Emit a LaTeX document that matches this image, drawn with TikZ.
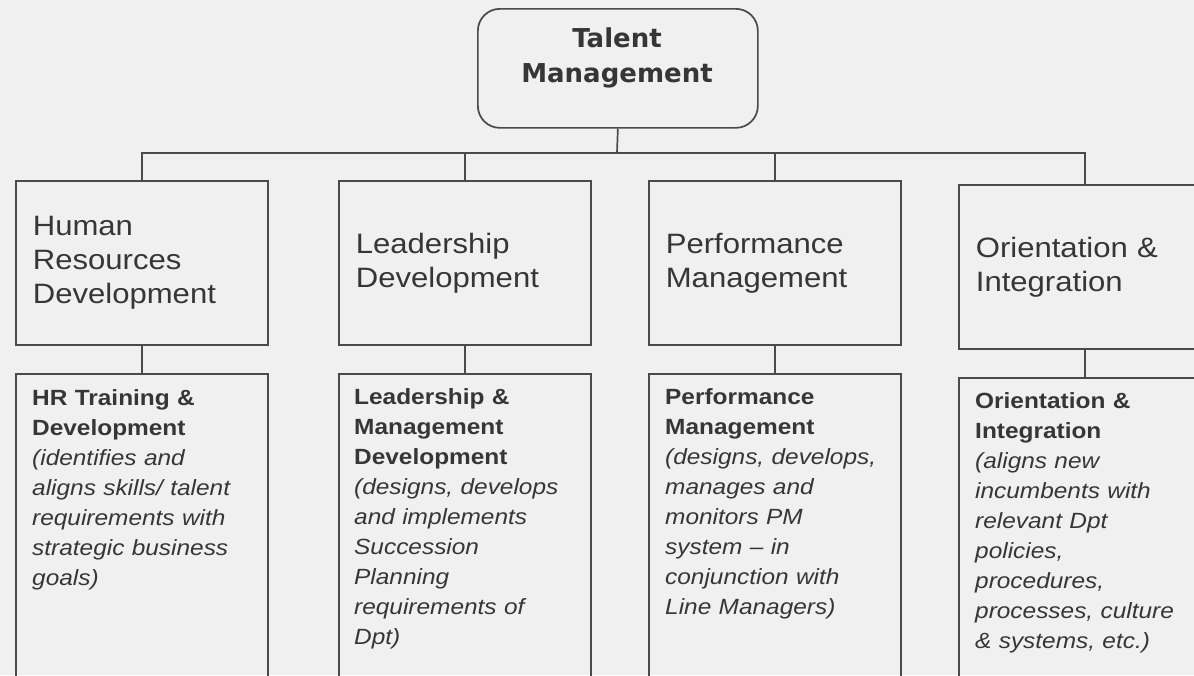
\documentclass[tikz,border=0pt]{standalone}
\usepackage{fontspec}
\setmainfont[FakeStretch=1.11]{Liberation Sans}
\newfontfamily\headfont{DejaVu Sans}
\definecolor{paper}{HTML}{F0F0F0}
\definecolor{ink}{HTML}{363636}
\definecolor{rule}{HTML}{4A4A4A}
\begin{document}
\begin{tikzpicture}[x=1pt,y=-1pt,
  wire/.style={draw=rule, line width=1.7pt},
  headbox/.style={wire, rounded corners=22pt, minimum width=280pt, minimum height=119pt,
    anchor=north west, inner sep=0pt},
  headtext/.style={text=ink, font=\headfont\bfseries\fontsize{26}{35}\selectfont,
    align=center, anchor=base, inner sep=0pt},
  unitbox/.style={wire, anchor=north west, minimum width=252pt, minimum height=164pt,
    text width=218pt, inner xsep=17pt, inner ysep=0pt, align=left, text=ink,
    font=\fontsize{28}{34}\selectfont},
  subbox/.style={wire, anchor=north west, minimum width=252pt, minimum height=330pt,
    inner sep=0pt},
  subtext/.style={text=ink, anchor=base west, inner sep=0pt, text width=225pt,
    align=left, font=\fontsize{22}{30}\selectfont}
]
% page and background
\fill[paper] (0,0) rectangle (1194,675);
\useasboundingbox (0,0) rectangle (1194,675);
\begin{scope}
\clip (0,0) rectangle (1194,675);

% root (text baseline given for its last line)
\node[headbox] (tm) at (477,8) {};
\node[headtext] (tmtext) at (617,82) {Talent\\Management};

% second level
\node[unitbox] (hrd) at (15,180)  {Human\\Resources\\Development};
\node[unitbox] (ld)  at (338,180) {Leadership\\Development};
\node[unitbox] (pm)  at (648,180) {Performance\\Management};
\node[unitbox] (oi)  at (958,184) {Orientation \&\\Integration};

% third level
\node[subbox] (hrdsub) at (15,373)  {};
\node[subbox] (ldsub)  at (338,373) {};
\node[subbox] (pmsub)  at (648,373) {};
\node[subbox] (oisub)  at (958,377) {};

\node[subtext] (hrdtext) at ([shift={(17pt,-32pt)}]hrdsub.north west)
  {\textbf{HR Training \&\\Development}\\
   \textit{(identifies and\\aligns skills/ talent\\requirements with\\strategic business\\goals)}};
\node[subtext] (ldtext) at ([shift={(16pt,-31pt)}]ldsub.north west)
  {\textbf{Leadership \&\\Management\\Development}\\
   \textit{(designs, develops\\and implements\\Succession\\Planning\\requirements of\\Dpt)}};
\node[subtext] (pmtext) at ([shift={(17pt,-31pt)}]pmsub.north west)
  {\textbf{Performance\\Management}\\
   \textit{(designs, develops,\\manages and\\monitors PM\\system -- in\\conjunction with\\Line Managers)}};
\node[subtext] (oitext) at ([shift={(17pt,-31pt)}]oisub.north west)
  {\textbf{Orientation \&\\Integration}\\
   \textit{(aligns new\\incumbents with\\relevant Dpt\\policies,\\procedures,\\processes, culture\\\& systems, etc.)}};

% connectors
\coordinate (bus) at (617,153);
\draw[wire] (tm.south) -- (bus);
\draw[wire] (hrd.north) |- (bus) -| (oi.north);
\draw[wire] (ld.north) -- (ld.north |- bus);
\draw[wire] (pm.north) -- (pm.north |- bus);
\draw[wire] (hrd.south) -- (hrdsub.north);
\draw[wire] (ld.south) -- (ldsub.north);
\draw[wire] (pm.south) -- (pmsub.north);
\draw[wire] (oi.south) -- (oisub.north);
\end{scope}
\end{tikzpicture}
\end{document}
